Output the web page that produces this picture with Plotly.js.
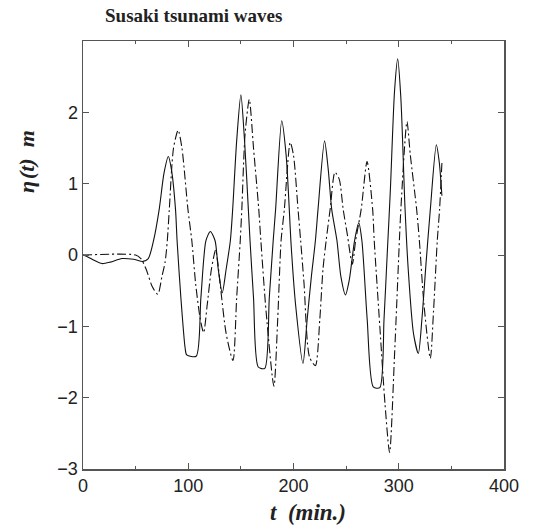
<!DOCTYPE html>
<html>
<head>
<meta charset="utf-8">
<script src="https://cdn.plot.ly/plotly-3.0.1.min.js"></script>
<style>html,body{margin:0;padding:0;background:#fff;}#chart{width:533px;height:530px;}</style>
</head>
<body>
<div id="chart"></div>
<script>
// Observed (solid) record: time in minutes, elevation in metres
var solidT = [0, 5, 10, 18, 26, 37, 48, 57, 62, 67, 72.4, 77, 81.1, 84, 87.9, 89.4, 93, 97, 98.5, 107.5, 112, 116.8, 121, 125.5, 128.5, 132.3, 136, 140, 142.2, 146, 150, 153.5, 157.1, 158.7, 162, 166.5, 172.7, 177, 180.7, 183, 188.8, 193, 196, 197.5, 202, 209, 213, 217, 220.8, 223.3, 229.5, 233, 236.3, 241.3, 245, 249.4, 253, 258, 262, 265, 270, 275.8, 282, 286, 289, 292, 296, 299, 302, 306, 309, 314, 318.6, 322, 326, 330, 335.7, 338.5, 341];
var solidEta = [0, -0.03, -0.07, -0.12, -0.10, -0.05, -0.06, -0.09, -0.05, 0.2, 0.64, 1.15, 1.38, 1.2, 0.64, 0.2, -0.6, -1.3, -1.40, -1.42, -0.6, 0.2, 0.33, 0.2, -0.2, -0.53, -0.2, 0.2, 0.64, 1.6, 2.245, 1.6, 0.64, 0.2, -0.6, -1.57, -1.59, -0.6, 0.2, 0.64, 1.88, 1.4, 0.64, 0.2, -0.7, -1.52, -0.9, -0.3, 0.2, 0.64, 1.60, 1.2, 0.64, 0.2, -0.3, -0.56, -0.35, 0.2, 0.45, 0.2, -0.9, -1.85, -1.86, -0.9, 0.0, 0.9, 2.3, 2.75, 2.2, 0.64, -0.2, -1.1, -1.38, -0.9, -0.1, 0.64, 1.545, 1.3, 0.83];

// Computed (dash-dot) record
var dashT = [0, 50, 55, 60, 66, 71.1, 75, 78, 80.1, 82, 86, 90.4, 94, 99.7, 103.4, 107, 111.2, 114.6, 118, 122, 126, 128, 131, 136, 142.5, 146, 149.4, 150.9, 154, 158, 162, 167, 169, 174, 181.4, 185, 188.2, 191.3, 196.9, 200, 204.3, 206.8, 210, 215.2, 220.8, 225, 228, 231, 234.8, 239.4, 243.5, 247.2, 251, 255.9, 259, 264.3, 269.9, 275.2, 276.7, 282, 287, 291.3, 296, 300.6, 302, 307.8, 311, 317, 319.6, 324, 330, 333, 336.6, 338.8, 341];
var dashEta = [0, 0, -0.05, -0.2, -0.45, -0.55, -0.3, -0.1, 0.2, 0.64, 1.5, 1.75, 1.5, 0.64, 0.2, -0.4, -0.88, -1.09, -0.7, -0.2, 0.07, -0.1, -0.5, -1.1, -1.48, -0.6, 0.2, 0.64, 1.7, 2.18, 1.5, 0.64, 0.2, -0.8, -1.84, -0.9, 0.2, 0.64, 1.58, 1.4, 0.64, 0.2, -0.4, -1.43, -1.55, -0.9, -0.2, 0.2, 0.64, 1.16, 1.06, 0.64, 0.3, -0.13, 0.2, 0.64, 1.31, 0.64, 0.2, -1.0, -2.1, -2.77, -1.4, 0.2, 0.64, 1.87, 1.4, 0.64, 0.2, -0.7, -1.45, -0.8, 0.2, 0.64, 1.29];

var xTicks = [0, 100, 200, 300, 400];
var yTicks = [-3, -2, -1, 0, 1, 2];

var traces = [
  {x: solidT, y: solidEta, type: 'scatter', mode: 'lines', name: 'solid',
   line: {color: '#111', width: 1.1, shape: 'spline', smoothing: 0.7}},
  {x: dashT, y: dashEta, type: 'scatter', mode: 'lines', name: 'dashdot',
   line: {color: '#111', width: 1.1, shape: 'spline', smoothing: 0.7, dash: '9px,3px,2px,3px'}}
];

var axisCommon = {
  showline: true, linecolor: '#555', linewidth: 1.5, mirror: 'ticks',
  ticks: 'inside', ticklen: 6, tickcolor: '#555', tickwidth: 1,
  showgrid: false, zeroline: false,
  tickfont: {family: 'Liberation Sans, Arial, sans-serif', size: 18, color: '#222'}
};

var layout = {
  width: 533, height: 530,
  margin: {l: 83, r: 29, t: 41, b: 61},
  paper_bgcolor: '#fff', plot_bgcolor: '#fff',
  showlegend: false,
  title: {text: '<b>Susaki tsunami waves</b>', x: 105/533, xanchor: 'left', xref: 'container',
          y: 1 - 15/530, yanchor: 'middle', yref: 'container',
          font: {family: 'Liberation Serif, Times New Roman, serif', size: 19, color: '#222'}},
  xaxis: Object.assign({}, axisCommon, {range: [0, 400], tickvals: xTicks,
          minor: {tickvals: [50, 150, 250, 350], ticks: 'inside', ticklen: 3, tickcolor: '#555'}}),
  yaxis: Object.assign({}, axisCommon, {range: [-3, 3], tickvals: yTicks}),
  annotations: [
    {text: '<b><i>t\u00a0\u00a0(min.)</i></b>', xref: 'paper', yref: 'paper',
     x: (308 - 83) / 421, y: -(512 - 469) / 428, xanchor: 'center', yanchor: 'middle', showarrow: false,
     font: {family: 'Liberation Serif, Times New Roman, serif', size: 23, color: '#222'}},
    {text: '<b><i>\u03b7\u200a(t)\u00a0\u00a0m</i></b>', xref: 'paper', yref: 'paper',
     x: -(83 - 27) / 421, y: (469 - 162) / 428, xanchor: 'center', yanchor: 'middle', showarrow: false,
     textangle: -90,
     font: {family: 'Liberation Serif, Times New Roman, serif', size: 22, color: '#222'}}
  ]
};

Plotly.newPlot('chart', traces, layout, {displayModeBar: false, staticPlot: true});
</script>
</body>
</html>
